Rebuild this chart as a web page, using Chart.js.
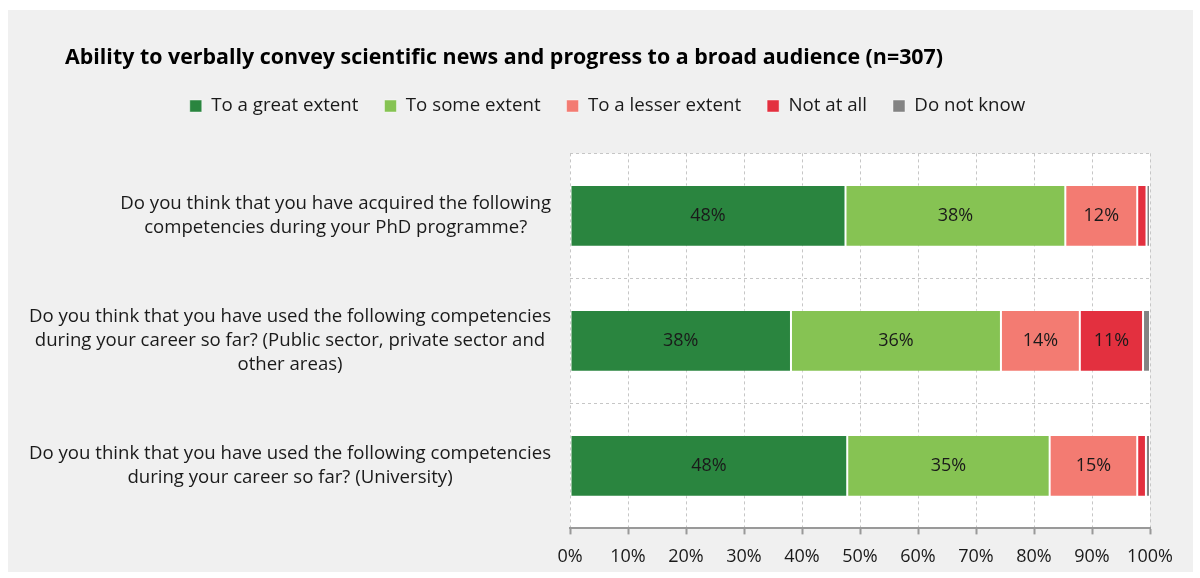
<!DOCTYPE html>
<html>
<head>
<meta charset="utf-8">
<script src="https://cdn.jsdelivr.net/npm/chart.js@4/dist/chart.umd.min.js"></script>
<style>
  html, body { margin: 0; padding: 0; background: #ffffff; }
  #panel { position: absolute; left: 8px; top: 10px; width: 1185px; height: 562px; background: #f0f0f0; }
</style>
</head>
<body>
<div id="panel"><canvas id="myChart" width="1185" height="562"></canvas></div>
<script>
const questions = [
  ["Do you think that you have acquired the following", "competencies during your PhD programme?"],
  ["Do you think that you have used the following competencies", "during your career so far? (Public sector, private sector and", "other areas)"],
  ["Do you think that you have used the following competencies", "during your career so far? (University)"],
];
const answers = ["To a great extent", "To some extent", "To a lesser extent", "Not at all", "Do not know"];
const greatExtent = [47.5, 38.1, 47.8];
const someExtent = [37.9, 36.2, 34.9];
const lesserExtent = [12.4, 13.6, 15.1];
const notAtAll = [1.6, 10.9, 1.5];
const doNotKnow = [0.6, 1.2, 0.7];
const xTicks = [0, 10, 20, 30, 40, 50, 60, 70, 80, 90, 100];

const colors = ["#2a853f", "#86c353", "#f37b72", "#e3303f", "#838383"];
const values = [greatExtent, someExtent, lesserExtent, notAtAll, doNotKnow];
const FONT = "'Open Sans', 'Liberation Sans', sans-serif";

// white plot area on the grey panel
const plotBackground = {
  id: "plotBackground",
  beforeDraw(chart) {
    const { ctx, chartArea: a } = chart;
    ctx.save();
    ctx.fillStyle = "#ffffff";
    ctx.fillRect(a.left, a.top, a.right - a.left, a.bottom - a.top);
    ctx.restore();
  },
};

// extra gap under the legend
const legendGap = {
  id: "legendGap",
  beforeInit(chart) {
    const fit = chart.legend.fit;
    chart.legend.fit = function () {
      fit.bind(chart.legend)();
      this.height += 28;
    };
  },
};

// percentages inside the segments
const segmentLabels = {
  id: "segmentLabels",
  afterDatasetsDraw(chart) {
    const ctx = chart.ctx;
    ctx.save();
    ctx.font = "18px " + FONT;
    ctx.fillStyle = "#1a1a1a";
    ctx.textAlign = "center";
    ctx.textBaseline = "middle";
    chart.data.datasets.forEach((ds, di) => {
      chart.getDatasetMeta(di).data.forEach((bar, i) => {
        const v = ds.data[i];
        if (v < 5) return;
        const p = bar.getProps(["x", "y", "base"], true);
        ctx.fillText(Math.round(v) + "%", (p.x + p.base) / 2, p.y);
      });
    });
    ctx.restore();
  },
};

// question text, each block centred on itself, right edge near the axis
const questionLabels = {
  id: "questionLabels",
  afterDraw(chart) {
    const ctx = chart.ctx;
    const yScale = chart.scales.y;
    const right = chart.chartArea.left - 19;
    ctx.save();
    ctx.font = "18.6px " + FONT;
    ctx.fillStyle = "#1a1a1a";
    ctx.textAlign = "center";
    ctx.textBaseline = "middle";
    questions.forEach((lines, i) => {
      const w = Math.max(...lines.map((l) => ctx.measureText(l).width));
      const cx = right - w / 2;
      const cy = yScale.getPixelForValue(i);
      const lh = 24;
      lines.forEach((l, k) => {
        ctx.fillText(l, cx, cy + (k - (lines.length - 1) / 2) * lh);
      });
    });
    ctx.restore();
  },
};

new Chart("myChart", {
  type: "bar",
  data: {
    labels: questions,
    datasets: answers.map((name, i) => ({
      label: name,
      data: values[i],
      backgroundColor: colors[i],
      borderColor: "rgba(255,255,255,0.45)",
      borderWidth: 1,
      borderSkipped: false,
      categoryPercentage: 1,
      barPercentage: 0.495,
    })),
  },
  options: {
    indexAxis: "y",
    responsive: false,
    animation: false,
    layout: { padding: { left: 57, right: 43, top: 0, bottom: -8 } },
    plugins: {
      title: {
        display: true,
        text: "Ability to verbally convey scientific news and progress to a broad audience (n=307)",
        align: "start",
        color: "#000000",
        font: { family: FONT, size: 21.4, weight: "bold" },
        padding: { top: 35, bottom: 0 },
      },
      legend: {
        display: true,
        labels: {
          color: "#1a1a1a",
          font: { family: FONT, size: 18.7 },
          boxWidth: 12,
          boxHeight: 12,
          padding: 26,
        },
      },
      tooltip: { enabled: false },
    },
    scales: {
      x: {
        stacked: true,
        min: 0,
        max: 100,
        afterBuildTicks(scale) {
          scale.ticks = xTicks.map((v) => ({ value: v }));
        },
        ticks: {
          color: "#1a1a1a",
          font: { family: FONT, size: 18 },
          padding: 12,
          callback: (v) => v + "%",
        },
        grid: {
          color: "#c6c6c6",
          tickColor: "#999999",
          tickLength: 6,
          tickWidth: 2,
        },
        border: { display: true, color: "#999999", width: 2, dash: [3, 3] },
      },
      y: {
        stacked: true,
        afterFit(scale) {
          scale.width = 505;
        },
        ticks: { display: false },
        grid: { color: "#c6c6c6", drawTicks: false, offset: true },
        border: { display: false, dash: [3, 3] },
      },
    },
  },
  plugins: [plotBackground, legendGap, segmentLabels, questionLabels],
});
</script>
</body>
</html>
